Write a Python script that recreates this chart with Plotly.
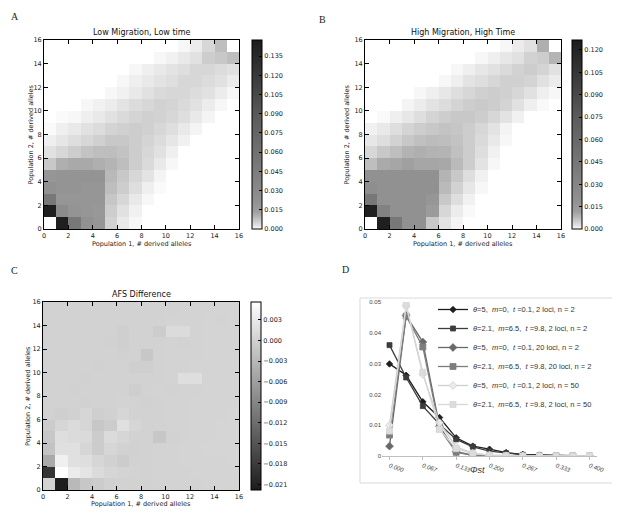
import plotly.graph_objects as go

# The page body adds an 8px offset, so the figure is drawn 8px smaller and
# reference pixel positions are shifted by that offset.
OFF = 8
W, H = 620 - OFF, 513 - OFF


def px(x):
    return (x - OFF) / W


def py(y):
    return 1 - (y - OFF) / H


# ---------------- data ----------------
allele_edges = list(range(17))
allele_ticks = [0, 2, 4, 6, 8, 10, 12, 14, 16]

# rows: population 2 count 0..15 ; columns: population 1 count 0..15
afs_low = [
    [None, 0.1446, 0.0502, 0.0221, 0.0192, 0.0052, 0.0021, 0.0006, 0, 0, 0, 0, 0, 0, 0, 0],
    [0.1446, 0.0280, 0.0204, 0.0192, 0.0180, 0.0059, 0.0030, 0.0012, 0, 0, 0, 0, 0, 0, 0, 0],
    [0.0502, 0.0192, 0.0192, 0.0192, 0.0192, 0.0069, 0.0044, 0.0021, 0.0006, 0, 0, 0, 0, 0, 0, 0],
    [0.0221, 0.0204, 0.0204, 0.0192, 0.0192, 0.0083, 0.0059, 0.0034, 0.0014, 0.0003, 0, 0, 0, 0, 0, 0],
    [0.0192, 0.0204, 0.0204, 0.0204, 0.0204, 0.0090, 0.0066, 0.0044, 0.0027, 0.0009, 0, 0, 0, 0, 0, 0],
    [0.0066, 0.0108, 0.0117, 0.0117, 0.0108, 0.0099, 0.0083, 0.0059, 0.0040, 0.0021, 0.0006, 0, 0, 0, 0, 0],
    [0.0030, 0.0044, 0.0059, 0.0074, 0.0083, 0.0083, 0.0074, 0.0059, 0.0044, 0.0030, 0.0014, 0, 0, 0, 0, 0],
    [0.0014, 0.0024, 0.0034, 0.0044, 0.0055, 0.0066, 0.0066, 0.0059, 0.0049, 0.0037, 0.0024, 0.0012, 0, 0, 0, 0],
    [0.0003, 0.0014, 0.0021, 0.0030, 0.0037, 0.0049, 0.0055, 0.0059, 0.0055, 0.0044, 0.0034, 0.0021, 0.0009, 0, 0, 0],
    [0, 0.0003, 0.0006, 0.0014, 0.0021, 0.0030, 0.0040, 0.0049, 0.0055, 0.0052, 0.0044, 0.0034, 0.0021, 0.0009, 0, 0],
    [0, 0, 0, 0.0006, 0.0012, 0.0018, 0.0027, 0.0037, 0.0044, 0.0052, 0.0049, 0.0040, 0.0030, 0.0018, 0.0006, 0],
    [0, 0, 0, 0, 0, 0.0006, 0.0012, 0.0021, 0.0030, 0.0040, 0.0044, 0.0044, 0.0037, 0.0030, 0.0018, 0.0006],
    [0, 0, 0, 0, 0, 0, 0.0006, 0.0014, 0.0021, 0.0027, 0.0034, 0.0044, 0.0044, 0.0037, 0.0030, 0.0018],
    [0, 0, 0, 0, 0, 0, 0, 0.0006, 0.0014, 0.0021, 0.0027, 0.0034, 0.0044, 0.0044, 0.0037, 0.0030],
    [0, 0, 0, 0, 0, 0, 0, 0, 0, 0.0006, 0.0012, 0.0021, 0.0030, 0.0059, 0.0066, 0.0083],
    [0, 0, 0, 0, 0, 0, 0, 0, 0, 0, 0, 0.0006, 0.0018, 0.0044, 0.0083, None],
]

afs_high = [
    [None, 0.1242, 0.0431, 0.0190, 0.0190, 0.0057, 0.0023, 0.0008, 0, 0, 0, 0, 0, 0, 0, 0],
    [0.1242, 0.0329, 0.0190, 0.0190, 0.0190, 0.0139, 0.0038, 0.0015, 0.0003, 0, 0, 0, 0, 0, 0, 0],
    [0.0431, 0.0190, 0.0190, 0.0190, 0.0190, 0.0165, 0.0057, 0.0029, 0.0010, 0, 0, 0, 0, 0, 0, 0],
    [0.0215, 0.0190, 0.0190, 0.0190, 0.0190, 0.0190, 0.0077, 0.0044, 0.0020, 0.0005, 0, 0, 0, 0, 0, 0],
    [0.0190, 0.0190, 0.0190, 0.0190, 0.0190, 0.0190, 0.0085, 0.0057, 0.0029, 0.0010, 0, 0, 0, 0, 0, 0],
    [0.0071, 0.0100, 0.0106, 0.0114, 0.0106, 0.0106, 0.0103, 0.0077, 0.0051, 0.0023, 0.0005, 0, 0, 0, 0, 0],
    [0.0038, 0.0057, 0.0071, 0.0087, 0.0092, 0.0087, 0.0085, 0.0067, 0.0051, 0.0029, 0.0010, 0, 0, 0, 0, 0],
    [0.0020, 0.0029, 0.0044, 0.0057, 0.0067, 0.0073, 0.0071, 0.0063, 0.0051, 0.0034, 0.0018, 0.0005, 0, 0, 0, 0],
    [0.0010, 0.0018, 0.0029, 0.0042, 0.0051, 0.0057, 0.0063, 0.0060, 0.0051, 0.0038, 0.0023, 0.0008, 0, 0, 0, 0],
    [0, 0.0003, 0.0012, 0.0020, 0.0029, 0.0042, 0.0051, 0.0057, 0.0057, 0.0051, 0.0038, 0.0023, 0.0010, 0, 0, 0],
    [0, 0, 0, 0.0008, 0.0015, 0.0023, 0.0032, 0.0042, 0.0051, 0.0054, 0.0051, 0.0042, 0.0025, 0.0012, 0.0003, 0],
    [0, 0, 0, 0, 0.0005, 0.0012, 0.0020, 0.0029, 0.0038, 0.0047, 0.0051, 0.0047, 0.0038, 0.0025, 0.0012, 0.0005],
    [0, 0, 0, 0, 0, 0, 0.0005, 0.0012, 0.0023, 0.0029, 0.0038, 0.0047, 0.0047, 0.0042, 0.0025, 0.0015],
    [0, 0, 0, 0, 0, 0, 0, 0.0005, 0.0012, 0.0020, 0.0025, 0.0034, 0.0044, 0.0051, 0.0042, 0.0025],
    [0, 0, 0, 0, 0, 0, 0, 0, 0, 0.0005, 0.0012, 0.0020, 0.0025, 0.0044, 0.0051, 0.0085],
    [0, 0, 0, 0, 0, 0, 0, 0, 0, 0, 0, 0.0005, 0.0015, 0.0025, 0.0092, None],
]

afs_diff = [
    [0.0003, -0.0215, -0.0029, -0.0011, -0.0005, 0.0001, 0.0002, 0.0002, 0.0002, 0.0003, 0.0003, 0.0003, 0.0003, 0.0004, 0.0004, 0.0004],
    [-0.0188, 0.0055, 0.0032, 0.0023, 0.0013, 0.0007, 0.0004, 0.0003, 0.0002, 0.0003, 0.0003, 0.0003, 0.0004, 0.0004, 0.0004, 0.0004],
    [-0.0048, 0.0038, 0.0019, 0.0016, 0.0007, 0.0001, -0.0005, 0.0002, 0.0002, 0.0003, 0.0003, 0.0004, 0.0004, 0.0004, 0.0004, 0.0005],
    [-0.0017, 0.0019, 0.0019, 0.0007, -0.0005, 0.0007, 0.0002, 0.0001, 0.0002, 0.0003, 0.0003, 0.0004, 0.0004, 0.0005, 0.0005, 0.0005],
    [-0.0011, 0.0016, 0.0013, 0.0011, -0.0005, 0.0013, 0.0007, 0.0002, 0.0002, -0.0011, 0.0002, 0.0003, 0.0004, 0.0004, 0.0005, 0.0005],
    [-0.0005, 0.0007, 0.0013, 0.0007, -0.0011, -0.0005, 0.0019, 0.0007, 0.0002, 0.0002, 0.0003, 0.0003, 0.0004, 0.0004, 0.0005, 0.0005],
    [0.0001, -0.0002, 0.0001, 0.0007, -0.0002, 0.0001, 0.0007, 0.0002, 0.0002, 0.0002, 0.0003, 0.0003, 0.0004, 0.0004, 0.0004, 0.0005],
    [0.0002, 0.0002, 0.0002, 0.0001, 0.0002, 0.0002, 0.0003, 0.0002, 0.0000, 0.0002, 0.0003, 0.0003, 0.0004, 0.0004, 0.0004, 0.0004],
    [0.0002, 0.0002, 0.0001, 0.0002, 0.0002, 0.0002, 0.0002, -0.0003, 0.0002, 0.0003, 0.0002, 0.0003, 0.0003, 0.0004, 0.0004, 0.0004],
    [0.0002, 0.0002, 0.0002, 0.0001, 0.0002, 0.0002, 0.0002, 0.0002, 0.0002, 0.0002, 0.0003, 0.0016, 0.0016, 0.0004, 0.0004, 0.0004],
    [0.0002, 0.0002, 0.0002, 0.0002, 0.0001, 0.0002, 0.0002, -0.0002, -0.0002, 0.0002, 0.0003, 0.0003, 0.0004, 0.0004, 0.0004, 0.0004],
    [0.0002, 0.0002, 0.0002, 0.0002, 0.0002, 0.0002, 0.0001, 0.0002, -0.0011, 0.0002, 0.0003, 0.0003, 0.0003, 0.0004, 0.0004, 0.0004],
    [0.0002, 0.0002, 0.0002, 0.0002, 0.0002, 0.0001, -0.0002, 0.0002, 0.0002, 0.0002, 0.0003, 0.0002, 0.0003, 0.0004, 0.0004, 0.0004],
    [0.0002, 0.0002, 0.0002, 0.0002, 0.0002, 0.0002, -0.0002, 0.0002, 0.0002, -0.0005, 0.0013, 0.0013, 0.0003, 0.0004, 0.0004, 0.0004],
    [0.0002, 0.0002, 0.0002, 0.0002, 0.0002, 0.0002, 0.0002, 0.0002, 0.0002, 0.0002, 0.0003, 0.0003, 0.0003, 0.0004, 0.0003, 0.0004],
    [0.0002, 0.0002, 0.0002, 0.0002, 0.0002, 0.0002, 0.0002, 0.0002, 0.0002, 0.0002, 0.0002, 0.0003, 0.0003, 0.0003, 0.0004, 0.0004],
]

low_ticks = [0.0, 0.015, 0.03, 0.045, 0.06, 0.075, 0.09, 0.105, 0.12, 0.135]
high_ticks = [0.0, 0.015, 0.03, 0.045, 0.06, 0.075, 0.09, 0.105, 0.12]
diff_ticks = [-0.021, -0.018, -0.015, -0.012, -0.009, -0.006, -0.003, 0.0, 0.003]

phist_index = list(range(13))
phist_tick_index = [0, 2, 4, 6, 8, 10, 12]
phist_tick_labels = ["0.000", "0.067", "0.133", "0.200", "0.267", "0.333", "0.400"]
freq_ticks = [0, 0.01, 0.02, 0.03, 0.04, 0.05]
freq_tick_labels = ["0", "0.01", "0.02", "0.03", "0.04", "0.05"]

series_names = [
    "<i>θ</i>=5,  <i>m</i>=0,  <i>t</i> =0.1, 2 loci, n = 2",
    "<i>θ</i>=2.1,  <i>m</i>=6.5,  <i>t</i> =9.8, 2 loci, n = 2",
    "<i>θ</i>=5,  <i>m</i>=0,  <i>t</i> =0.1, 20 loci, n = 2",
    "<i>θ</i>=2.1,  <i>m</i>=6.5,  <i>t</i> =9.8, 20 loci, n = 2",
    "<i>θ</i>=5,  <i>m</i>=0,  <i>t</i> =0.1, 2 loci, n = 50",
    "<i>θ</i>=2.1,  <i>m</i>=6.5,  <i>t</i> =9.8, 2 loci, n = 50",
]
s1 = [0.0299, 0.0262, 0.0176, 0.0125, 0.0059, 0.0032, 0.0022, 0.0011, 0.0005, 0.0003, 0.0002, 0.0001, 0.0001]
s2 = [0.0360, 0.0255, 0.0162, 0.0103, 0.0054, 0.0030, 0.0016, 0.0009, 0.0004, 0.0002, 0.0001, 0.0001, 0.0000]
s3 = [0.0032, 0.0456, 0.0370, 0.0097, 0.0014, 0.0003, 0.0001, 0.0000, 0.0, 0.0, 0.0, 0.0, 0.0]
s4 = [0.0068, 0.0454, 0.0354, 0.0089, 0.0012, 0.0002, 0.0001, 0.0000, 0.0, 0.0, 0.0, 0.0, 0.0]
s5 = [0.0100, 0.0488, 0.0265, 0.0108, 0.0030, 0.0009, 0.0003, 0.0001, 0.0, 0.0, 0.0, 0.0, 0.0]
s6 = [0.0081, 0.0490, 0.0272, 0.0086, 0.0024, 0.0008, 0.0003, 0.0001, 0.0, 0.0, 0.0, 0.0, 0.0]

# ---------------- styling ----------------
FONT = "DejaVu Sans"
TXT = "#222"
gray_r = [
    [0.0, "rgb(255,255,255)"], [0.003, "rgb(248,248,248)"], [0.02, "rgb(225,225,225)"],
    [0.05, "rgb(195,195,195)"], [0.09, "rgb(160,160,160)"], [0.15, "rgb(145,145,145)"],
    [0.3, "rgb(125,125,125)"], [0.6, "rgb(90,90,90)"], [1.0, "rgb(28,28,28)"],
]
gray = [[0.0, "rgb(28,28,28)"], [1.0, "rgb(255,255,255)"]]

fig = go.Figure()

panels = [
    dict(z=afs_low, xa="x", ya="y", x0=44, x1=239, y0=40, y1=229, cbx=252,
         zmin=0, zmax=0.1475, cs=gray_r, ticks=low_ticks, title="Low Migration, Low time",
         xlab_y=244, ylab_x=30),
    dict(z=afs_high, xa="x2", ya="y2", x0=365, x1=561, y0=40, y1=229, cbx=572,
         zmin=0, zmax=0.1267, cs=gray_r, ticks=high_ticks, title="High Migration, High Time",
         xlab_y=244, ylab_x=346),
    dict(z=afs_diff, xa="x3", ya="y3", x0=43, x1=239, y0=302, y1=490, cbx=251,
         zmin=-0.0218, zmax=0.0056, cs=gray, ticks=diff_ticks, title="AFS Difference",
         xlab_y=504, ylab_x=28),
]

layout_axes = {}
annotations = []
for i, p in enumerate(panels):
    fig.add_trace(go.Heatmap(
        z=p["z"], x=allele_edges, y=allele_edges, xaxis=p["xa"], yaxis=p["ya"],
        zmin=p["zmin"], zmax=p["zmax"], colorscale=p["cs"], hoverongaps=False,
        colorbar=dict(
            x=px(p["cbx"]), xanchor="left", xpad=0, ypad=0,
            y=py((p["y0"] + p["y1"]) / 2), yanchor="middle",
            lenmode="pixels", len=p["y1"] - p["y0"], thickness=10,
            outlinecolor="black", outlinewidth=1,
            tickvals=p["ticks"], tickformat=".3f", ticks="inside", ticklen=3,
            tickcolor="black", tickfont=dict(family=FONT, size=6.5, color=TXT),
        ),
    ))
    suffix = "" if i == 0 else str(i + 1)
    common = dict(range=[0, 16], tickvals=allele_ticks, ticks="inside", ticklen=4,
                  tickcolor="black", showline=True, linecolor="black", linewidth=1,
                  mirror="ticks", showgrid=False, zeroline=False,
                  tickfont=dict(family=FONT, size=6.5, color=TXT))
    layout_axes["xaxis" + suffix] = dict(
        common, domain=[px(p["x0"]), px(p["x1"])], anchor="y" + suffix)
    layout_axes["yaxis" + suffix] = dict(
        common, domain=[py(p["y1"]), py(p["y0"])], anchor="x" + suffix)
    annotations.append(dict(
        text=p["title"], x=px((p["x0"] + p["x1"]) / 2), y=py(p["y0"] - 1),
        xref="paper", yref="paper", xanchor="center", yanchor="bottom", showarrow=False,
        font=dict(family=FONT, size=8, color="#111")))
    annotations.append(dict(
        text="Population 1, # derived alleles", x=px((p["x0"] + p["x1"]) / 2),
        y=py(p["xlab_y"]), xref="paper", yref="paper", xanchor="center",
        yanchor="middle", showarrow=False, font=dict(family=FONT, size=6.5, color=TXT)))
    annotations.append(dict(
        text="Population 2, # derived alleles", x=px(p["ylab_x"]),
        y=py((p["y0"] + p["y1"]) / 2), xref="paper", yref="paper", xanchor="center",
        yanchor="middle", textangle=-90, showarrow=False,
        font=dict(family=FONT, size=6.5, color=TXT)))

# ---------------- panel D ----------------
styles = [
    dict(color="rgb(30,30,30)", symbol="diamond", size=5, mcolor="rgb(30,30,30)"),
    dict(color="rgb(60,60,60)", symbol="square", size=5, mcolor="rgb(60,60,60)"),
    dict(color="rgb(105,105,105)", symbol="diamond", size=6, mcolor="rgb(105,105,105)"),
    dict(color="rgb(125,125,125)", symbol="square", size=6, mcolor="rgb(125,125,125)"),
    dict(color="rgb(205,205,205)", symbol="diamond", size=6, mcolor="rgb(235,235,235)"),
    dict(color="rgb(215,215,215)", symbol="square", size=6, mcolor="rgb(220,220,220)"),
]
for name, vals, st in zip(series_names, [s1, s2, s3, s4, s5, s6], styles):
    fig.add_trace(go.Scatter(
        x=phist_index, y=vals, name=name, mode="lines+markers", xaxis="x4", yaxis="y4",
        line=dict(color=st["color"], width=1.3),
        marker=dict(symbol=st["symbol"], size=st["size"], color=st["mcolor"],
                    line=dict(color=st["color"], width=0.8)),
    ))

layout_axes["xaxis4"] = dict(
    domain=[px(382), px(597)], anchor="y4", range=[-0.45, 12.45],
    tickvals=phist_tick_index, ticktext=["<i>%s</i>" % t for t in phist_tick_labels],
    tickangle=20, tickfont=dict(family="Liberation Sans", size=6, color="#444"),
    showline=True, linecolor="rgb(190,190,190)", linewidth=1,
    ticks="outside", ticklen=3, tickcolor="rgb(190,190,190)",
    showgrid=False, zeroline=False)
layout_axes["yaxis4"] = dict(
    domain=[py(456), py(302)], anchor="x4", range=[0, 0.05],
    tickvals=freq_ticks, ticktext=freq_tick_labels,
    tickfont=dict(family="Liberation Sans", size=6, color="#444"),
    showline=False, showgrid=False, zeroline=False, ticks="")

annotations.append(dict(
    text="<i>Φst</i>", x=px(487), y=py(477), xref="paper", yref="paper",
    showarrow=False, font=dict(family="Liberation Sans", size=9, color="#333")))

for lab, lx, ly in [("A", 9, 9), ("B", 323, 12), ("C", 9, 270), ("D", 345, 269)]:
    annotations.append(dict(
        text=lab, x=px(lx), y=py(ly), xref="paper", yref="paper", showarrow=False,
        font=dict(family="Liberation Serif", size=10, color="#222")))

fig.update_layout(
    width=W, height=H, margin=dict(l=0, r=0, t=0, b=0, autoexpand=False),
    paper_bgcolor="white", plot_bgcolor="white",
    showlegend=True,
    legend=dict(x=px(433), y=py(295), xanchor="left", yanchor="top",
                bgcolor="rgba(0,0,0,0)", font=dict(family="Liberation Sans", size=7.5, color="#333"),
                itemwidth=30, tracegroupgap=0),
    annotations=annotations,
    shapes=[dict(type="rect", xref="paper", yref="paper",
                 x0=px(360), x1=px(616), y0=py(483), y1=py(298),
                 line=dict(color="rgb(217,217,217)", width=1), layer="below")],
    **layout_axes,
)

fig.write_html("out.html")
